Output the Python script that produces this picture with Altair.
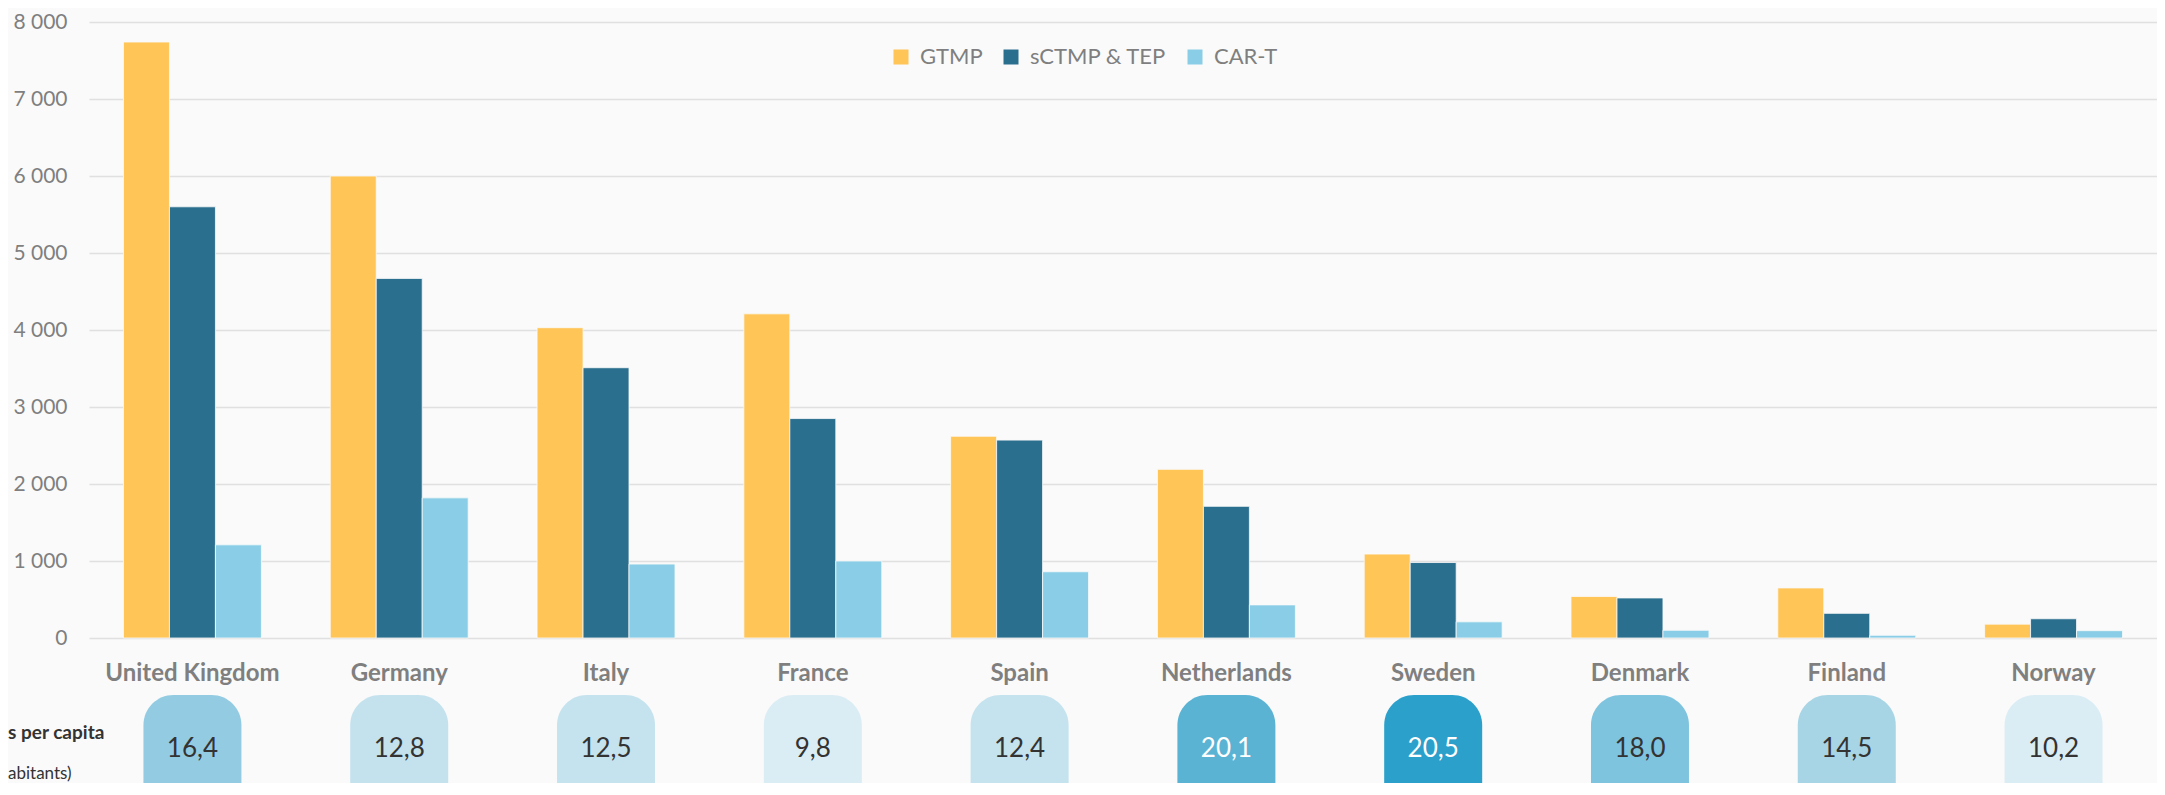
import altair as alt
import pandas as pd

countries = ["United Kingdom", "Germany", "Italy", "France", "Spain",
             "Netherlands", "Sweden", "Denmark", "Finland", "Norway"]
series = ["GTMP", "sCTMP & TEP", "CAR-T"]
gtmp = [7740, 6000, 4030, 4210, 2620, 2190, 1090, 540, 650, 180]
sctmp = [5600, 4670, 3510, 2850, 2570, 1710, 980, 520, 320, 250]
cart = [1210, 1820, 960, 1000, 860, 430, 210, 100, 35, 95]
rates = [16.4, 12.8, 12.5, 9.8, 12.4, 20.1, 20.5, 18.0, 14.5, 10.2]
left_labels = ["s per capita", "abitants)"]

series_colors = ["#FFC557", "#2B6F8F", "#89CEE6"]
box_domain = [9.8, 10.2, 12.4, 12.8, 14.5, 16.4, 18.0, 20.1, 20.5]
box_range = ["#DBEDF4", "#DBEDF4", "#C5E3EE", "#C4E2EE", "#A8D5E6",
             "#93CCE2", "#7FC4DE", "#5BB3D4", "#2BA0CB"]

rows = []
for i, c in enumerate(countries):
    for s, vals in zip(series, [gtmp, sctmp, cart]):
        rows.append({"country": c, "series": s, "value": vals[i]})
bars_df = pd.DataFrame(rows)
rates_df = pd.DataFrame({"country": countries, "rate": rates})

TOP = 14
W, H = 2068, 616
FONT = "Lato"
GREY = "#7F7F7F"

x_main = alt.X(
    "country:N", sort=countries,
    scale=alt.Scale(paddingInner=0.333, paddingOuter=0.1667),
    axis=alt.Axis(title=None, labelFont=FONT, labelFontWeight="bold",
                  labelFontSize=24, labelColor=GREY, labelPadding=23,
                  domain=False, ticks=False, labelAngle=0),
)
x_plain = alt.X("country:N", sort=countries)

bars = alt.Chart(bars_df).mark_bar(stroke="#FAFAFA", strokeWidth=0.8).encode(
    x=x_main,
    xOffset=alt.XOffset("series:N", sort=series,
                        scale=alt.Scale(paddingInner=0, paddingOuter=0)),
    y=alt.Y("value:Q", scale=alt.Scale(domain=[0, 8000]),
            axis=alt.Axis(title=None, tickCount=8,
                          labelExpr="replace(format(datum.value, ','), ',', ' ')",
                          labelFont=FONT, labelFontSize=21, labelColor=GREY,
                          labelPadding=22, domain=False, ticks=False,
                          gridColor="#E0E0E0", gridWidth=1.5)),
    color=alt.Color("series:N", sort=series,
                    scale=alt.Scale(domain=series, range=series_colors),
                    legend=alt.Legend(title=None, orient="none", legendX=801,
                                      legendY=24, direction="horizontal",
                                      symbolType="square", symbolSize=225,
                                      symbolStrokeWidth=0, labelFont=FONT,
                                      labelFontSize=22, labelColor=GREY,
                                      columnPadding=17, labelOffset=8)),
)

boxes = alt.Chart(rates_df).mark_bar(
    width=98, cornerRadiusTopLeft=30, cornerRadiusTopRight=30
).encode(
    x=x_plain,
    y=alt.value(673),
    y2=alt.value(761),
    fill=alt.Fill("rate:Q", scale=alt.Scale(domain=box_domain, range=box_range),
                  legend=None),
)

box_text = alt.Chart(rates_df).transform_calculate(
    label="replace(format(datum.rate, '.1f'), '.', ',')"
).mark_text(font=FONT, fontSize=26, baseline="middle").encode(
    x=x_plain,
    y=alt.value(727),
    text="label:N",
    color=alt.condition("datum.rate > 19", alt.value("#FFFFFF"), alt.value("#333333")),
)

left1 = alt.Chart(pd.DataFrame({"t": [left_labels[0]]})).mark_text(
    font=FONT, fontSize=19, fontWeight="bold", align="left", baseline="middle",
    color="#333333"
).encode(x=alt.value(-81), y=alt.value(711), text="t:N")

left2 = alt.Chart(pd.DataFrame({"t": [left_labels[1]]})).mark_text(
    font=FONT, fontSize=17, align="left", baseline="middle", color="#333333"
).encode(x=alt.value(-81), y=alt.value(752), text="t:N")

chart = alt.layer(bars, boxes, box_text, left1, left2).properties(
    width=W, height=H,
    autosize=alt.AutoSizeParams(type="none"),
    padding={"left": 81, "top": TOP, "right": 0, "bottom": 145},
    background="#FAFAFA",
).configure_view(stroke=None)

chart.save("out.html", embed_options={"renderer": "svg", "actions": False})
